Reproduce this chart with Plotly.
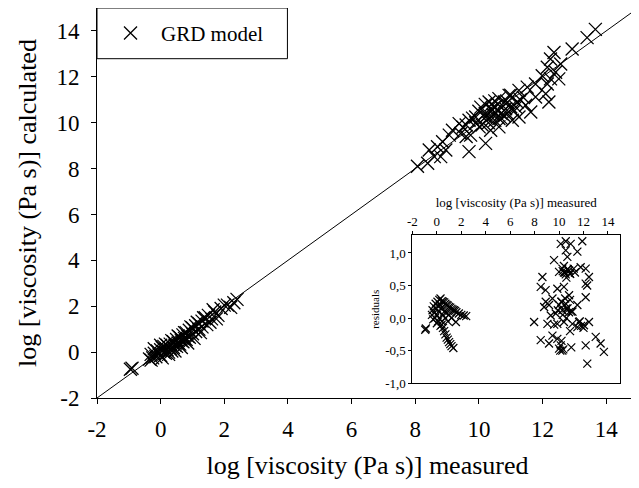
import plotly.graph_objects as go

# main plot: low viscosity group (measured, calculated)
low_meas = [-0.95, -0.9, -0.35, -0.3, -0.25, -0.2, -0.15, -0.1, -0.05, 0.0, 0.0, 0.05, 0.1, 0.1,
            0.15, 0.2, 0.2, 0.25, 0.3, 0.3, 0.35, 0.4, 0.4, 0.45, 0.5, 0.5, 0.55, 0.6, 0.6, 0.65,
            0.7, 0.7, 0.75, 0.8, 0.8, 0.85, 0.9, 0.9, 1.0, 1.0, 1.1, 1.1, 1.2, 1.2, 1.3, 1.3,
            1.4, 1.45, 1.5, 1.6, 1.7, 1.8, 1.9, 2.1, 2.2, 2.4,
            0.0, 0.05, 0.15, 0.25, 0.35, 0.45, 0.55, 0.65, 0.75, 0.85, 0.95, 1.05, 1.15, 1.25,
            1.35, 1.55, 1.65, 1.75, 2.0, 2.3, -0.2, -0.3]
low_calc = [-0.75, -0.7, -0.3, -0.1, -0.25, -0.05, -0.2, 0.05, -0.1, 0.1, -0.15, 0.2, 0.0, 0.25,
            -0.05, 0.3, 0.1, 0.0, 0.35, 0.15, 0.05, 0.45, 0.2, 0.3, 0.55, 0.25, 0.4, 0.65, 0.35, 0.5,
            0.75, 0.45, 0.6, 0.85, 0.55, 0.7, 0.95, 0.65, 1.05, 0.8, 1.15, 0.9, 1.25, 1.0, 1.35, 1.1,
            1.5, 1.2, 1.6, 1.45, 1.75, 1.6, 1.9, 2.05, 1.95, 2.3,
            0.3, -0.25, 0.35, -0.1, 0.5, 0.05, 0.7, 0.2, 0.85, 0.4, 1.1, 0.6, 1.3, 0.85,
            1.5, 1.3, 1.85, 1.45, 2.05, 2.15, 0.15, -0.35]

# main plot: high viscosity group
high_meas = [13.66, 13.4, 12.93, 12.36, 12.25, 12.57, 12.15, 12.41, 11.99, 12.25, 12.51, 11.78,
             12.15, 11.52, 11.26, 12.1, 11.78, 12.2, 10.95, 10.63, 10.32, 10.06, 10.42, 10.84,
             11.16, 11.47, 11.63, 9.9, 10.21, 10.63, 11.05, 11.26, 9.69, 9.38, 10.01, 10.37,
             10.63, 9.17, 9.43, 9.07, 9.74, 10.21, 9.69, 8.86, 8.7, 8.96, 8.44, 8.6, 8.8, 8.39,
             8.07, 10.5, 10.7, 10.9, 11.1, 10.3, 10.0, 9.8, 10.4, 10.8, 11.3, 9.6,
             10.2, 10.4, 10.6, 10.8, 11.0, 10.3, 10.5, 10.7, 10.9, 11.2, 11.4, 10.1, 9.9, 10.6,
             10.45, 11.0, 10.2, 10.5, 9.6, 9.5]
high_calc = [14.07, 13.71, 13.21, 13.06, 12.78, 12.56, 12.42, 12.2, 12.05, 11.91, 11.91, 11.69,
             11.69, 11.55, 11.41, 11.26, 11.12, 10.9, 11.19, 11.05, 10.9, 10.68, 10.54, 10.61,
             10.68, 10.76, 10.47, 10.25, 10.25, 10.18, 10.11, 10.25, 10.11, 9.96, 9.82, 9.67,
             9.82, 9.67, 9.53, 9.46, 9.46, 9.1, 8.74, 9.17, 8.95, 8.81, 8.81, 8.52, 8.52, 8.23,
             8.1, 10.7, 10.4, 10.9, 10.5, 10.0, 10.5, 10.2, 10.8, 10.3, 11.0, 9.9,
             10.4, 10.6, 10.5, 10.9, 10.7, 10.2, 10.1, 10.2, 10.4, 10.9, 11.1, 9.9, 10.0, 10.8,
             10.35, 11.2, 10.8, 10.95, 9.4, 9.8]

# inset: residuals vs measured
res_low_meas = [-0.95, -0.9, -0.4, -0.35, -0.3, -0.25, -0.2, -0.15, -0.1, -0.05, 0.0, 0.0, 0.05,
                0.1, 0.1, 0.15, 0.2, 0.2, 0.25, 0.3, 0.3, 0.35, 0.4, 0.4,
                0.5, 0.6, 0.7, 0.8, 0.9, 1.0, 1.1, 1.2, 1.3, 1.4, 1.5, 1.6, 1.8, 2.0, 2.2, 2.4,
                0.4, 0.5, 0.6, 0.7, 0.8, 0.9, 1.0, 1.1, 1.2, 1.35,
                0.5, 0.6, 0.7, 0.8, 0.9, 1.0, 1.2, 1.56]
res_low = [-0.18, -0.16, 0.05, 0.12, -0.02, 0.18, 0.08, 0.0, 0.22, 0.14, 0.05, -0.08, 0.25,
           0.18, -0.05, 0.1, 0.28, 0.0, 0.2, 0.3, -0.12, 0.15, 0.26, -0.05,
           0.25, 0.24, 0.22, 0.2, 0.19, 0.17, 0.16, 0.14, 0.13, 0.12, 0.11, 0.09, 0.07, 0.05, 0.04, 0.03,
           -0.1, -0.15, -0.2, -0.25, -0.3, -0.33, -0.37, -0.4, -0.43, -0.46,
           0.05, 0.1, 0.0, 0.08, -0.05, 0.05, 0.0, -0.06]
res_high_meas = [10.14, 10.55, 10.95, 11.9, 11.5, 10.55, 10.68, 9.59, 10.27, 10.82, 11.2, 11.77,
                 12.18, 10.0, 10.55, 12.45, 12.18, 12.3, 8.64, 8.5, 8.9, 9.86, 10.4, 10.82, 9.46,
                 8.91, 8.78, 9.18, 10.0, 10.55, 10.27, 10.82, 11.5, 12.18, 9.73, 9.32, 7.96, 9.05,
                 9.86, 10.4, 11.09, 11.64, 12.04, 12.45, 11.5, 9.46, 8.5, 9.18, 9.86, 10.14, 10.27,
                 10.0, 12.18, 13.0, 13.4, 13.67, 12.31, 10.4, 10.7, 10.9, 10.2, 10.6, 11.0,
                 10.3, 10.5, 10.7, 10.9, 10.4, 10.6, 11.3, 10.2, 10.5, 10.7, 10.9, 10.3, 11.1,
                 9.9, 10.6, 11.7, 11.8, 12.0, 9.6, 10.9, 10.2, 10.35, 10.1, 11.0]
res_high = [1.14, 1.18, 1.14, 1.18, 1.02, 1.04, 0.94, 0.89, 0.76, 0.73, 0.76, 0.78,
            0.76, 0.71, 0.67, 0.63, 0.53, 0.5, 0.63, 0.48, 0.43, 0.45, 0.48, 0.35, 0.3,
            0.25, 0.17, 0.2, 0.2, 0.22, 0.12, 0.09, 0.2, 0.32, 0.07, 0.04, -0.06, -0.09,
            -0.09, -0.06, -0.09, -0.06, -0.11, -0.06, -0.14, -0.27, -0.34, -0.39, -0.32, -0.42, -0.5,
            -0.47, -0.42, -0.29, -0.39, -0.52, -0.7, 0.7, 0.75, 0.68, 0.25, 0.15, 0.1,
            0.72, 0.7, 0.75, 0.68, 0.8, 0.62, 0.7, 0.25, 0.3, 0.15, 0.28, 0.05, 0.1,
            0.12, 0.0, -0.05, -0.12, -0.15, -0.1, -0.2, -0.35, -0.48, -0.5, -0.45]

# tick labels
main_ticks = [-2, 0, 2, 4, 6, 8, 10, 12, 14]
main_ticktext = ["-2", "0", "2", "4", "6", "8", "10", "12", "14"]
inset_yticks = [-1.0, -0.5, 0.0, 0.5, 1.0]
inset_yticktext = ["-1,0", "-0,5", "0,0", "0,5", "1,0"]

serif = "Liberation Serif"

fig = go.Figure()

# 1:1 line
fig.add_trace(go.Scatter(x=[-2, 15], y=[-2, 15], mode="lines",
                         line=dict(color="black", width=1), showlegend=False, hoverinfo="skip"))

fig.add_trace(go.Scatter(x=low_meas + high_meas, y=low_calc + high_calc, mode="markers",
                         name="\u00a0\u00a0GRD model",
                         marker=dict(symbol="x-thin", size=13, line=dict(color="black", width=1.3))))

fig.add_trace(go.Scatter(x=res_low_meas + res_high_meas, y=res_low + res_high, mode="markers",
                         xaxis="x2", yaxis="y2", showlegend=False,
                         marker=dict(symbol="x-thin", size=8, line=dict(color="black", width=1.2))))

# page body has an 8px margin, so the figure is a bit smaller than the window
fig.update_layout(
    width=631, height=480,
    margin=dict(l=89, r=1, t=0, b=90),
    paper_bgcolor="white", plot_bgcolor="white",
    font=dict(family=serif, color="black"),
    showlegend=True,
    legend=dict(x=0.025, y=0.935, xanchor="left", yanchor="middle",
                bgcolor="rgba(0,0,0,0)", font=dict(size=21, family=serif)),
    xaxis=dict(range=[-2, 15], tickvals=main_ticks, ticktext=main_ticktext,
               showgrid=False, zeroline=False, showline=True, linecolor="black", linewidth=1,
               mirror=True, ticks="outside", ticklen=5, tickcolor="black",
               tickfont=dict(size=23, family=serif), ticklabelstandoff=5,
               title=dict(text="log [viscosity (Pa s)] measured", font=dict(size=26, family=serif),
                          standoff=15)),
    yaxis=dict(range=[-2, 15], tickvals=main_ticks, ticktext=main_ticktext,
               showgrid=False, zeroline=False, showline=True, linecolor="black", linewidth=1,
               mirror=True, ticks="outside", ticklen=5, tickcolor="black",
               tickfont=dict(size=23, family=serif), ticklabelstandoff=7,
               title=dict(text="log [viscosity (Pa s)] calculated", font=dict(size=26, family=serif),
                          standoff=12)),
    xaxis2=dict(domain=[0.583, 0.967], anchor="y2", side="top", range=[-2, 15],
                tickvals=main_ticks, ticktext=main_ticktext,
                showgrid=False, zeroline=False, showline=True, linecolor="black", linewidth=1,
                mirror=True, ticks="outside", ticklen=3, tickcolor="black",
                tickfont=dict(size=13, family=serif),
                title=dict(text="log [viscosity (Pa s)] measured", font=dict(size=13, family=serif),
                           standoff=3)),
    yaxis2=dict(domain=[0.038, 0.417], anchor="x2", range=[-1.0, 1.27],
                tickvals=inset_yticks, ticktext=inset_yticktext,
                showgrid=False, zeroline=False, showline=True, linecolor="black", linewidth=1,
                mirror=True, ticks="outside", ticklen=3, tickcolor="black",
                tickfont=dict(size=13, family=serif),
                title=dict(text="residuals", font=dict(size=11, family=serif), standoff=3)),
    shapes=[dict(type="rect", xref="paper", yref="paper", x0=0, x1=0.352, y0=0.87, y1=1,
                 line=dict(color="black", width=1), fillcolor="rgba(0,0,0,0)")],
)

fig.write_html("out.html")
